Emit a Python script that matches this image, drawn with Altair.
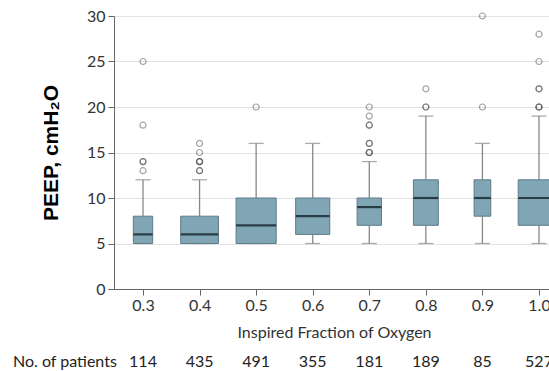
import altair as alt
import pandas as pd

# PEEP distribution by inspired fraction of oxygen (FiO2)
fio2 = [0.3, 0.4, 0.5, 0.6, 0.7, 0.8, 0.9, 1.0]
patients = [114, 435, 491, 355, 181, 189, 85, 527]
whisker_low = [5, 5, 5, 5, 5, 5, 5, 5]
q1 = [5, 5, 5, 6, 7, 7, 8, 7]
median = [6, 6, 7, 8, 9, 10, 10, 10]
q3 = [8, 8, 10, 10, 10, 12, 12, 12]
whisker_high = [12, 12, 16, 16, 14, 19, 16, 19]
# outlying PEEP values; repeated values mark several patients at the same level
outliers = [
    [13, 14, 14, 18, 25],
    [13, 13, 14, 14, 14, 15, 16],
    [20],
    [],
    [15, 15, 15, 16, 16, 18, 18, 19, 20],
    [20, 20, 22],
    [20, 30],
    [20, 20, 20, 22, 22, 25, 28],
]
y_ticks = [0, 5, 10, 15, 20, 25, 30]

boxes = pd.DataFrame({
    "fio2": fio2,
    "n": patients,
    "low": whisker_low,
    "q1": q1,
    "median": median,
    "q3": q3,
    "high": whisker_high,
})
points = pd.DataFrame(
    [{"fio2": f, "peep": v} for f, vals in zip(fio2, outliers) for v in vals]
)
row_label = pd.DataFrame({"label": ["No. of patients"]})

FONT = "Lato"
FS = 16
x_scale = alt.Scale(domain=[0.24874, 1.01768], nice=False, zero=False)
y_scale = alt.Scale(domain=[0, 30], nice=False)

x_axis = alt.Axis(
    values=fio2, format=".1f", grid=False, tickSize=6, tickColor="#666",
    domainColor="#666", labelFont=FONT, labelFontSize=FS, labelColor="#333",
    labelPadding=2, labelFlush=False, labelOverlap=False,
    title="Inspired Fraction of Oxygen", titleFont=FONT, titleFontSize=FS,
    titleFontWeight="normal", titleColor="#333", titleX=220, titleY=48,
    titleBaseline="alphabetic", titleAlign="center",
)
y_axis = alt.Axis(
    values=y_ticks, grid=True, gridColor="#e2e2e2", gridWidth=1.2, tickSize=6,
    tickColor="#666", domainColor="#666", labelFont=FONT, labelFontSize=FS,
    labelColor="#333", labelPadding=3,
    title="PEEP, cmH₂O", titleFont="Liberation Sans", titleFontSize=21,
    titleFontWeight="bold", titleColor="#000", titleAngle=270,
    titleX=-57, titleY=136.5, titleBaseline="alphabetic", titleAlign="center",
)

base = alt.Chart(boxes).transform_calculate(
    x_lo="datum.fio2 - 0.0016 * sqrt(datum.n)",
    x_hi="datum.fio2 + 0.0016 * sqrt(datum.n)",
)

whisker_lo = base.mark_rule(color="#888", strokeWidth=1.3).encode(
    x=alt.X("fio2:Q", scale=x_scale, axis=x_axis),
    y=alt.Y("low:Q", scale=y_scale, axis=y_axis),
    y2="q1:Q",
)
whisker_hi = base.mark_rule(color="#888", strokeWidth=1.3).encode(
    x="fio2:Q", y="q3:Q", y2="high:Q"
)
cap_lo = base.mark_tick(orient="horizontal", size=15, thickness=1.3, color="#888").encode(
    x="fio2:Q", y="low:Q"
)
cap_hi = base.mark_tick(orient="horizontal", size=15, thickness=1.3, color="#888").encode(
    x="fio2:Q", y="high:Q"
)
box = base.mark_rect(fill="#80a6b6", stroke="#5d7b87", strokeWidth=1).encode(
    x="x_lo:Q", x2="x_hi:Q", y="q1:Q", y2="q3:Q"
)
mid = base.mark_rule(color="#2b3d44", strokeWidth=2.2).encode(
    x="x_lo:Q", x2="x_hi:Q", y="median:Q"
)
dots = alt.Chart(points).mark_point(
    shape="circle", filled=False, size=36, stroke="#4a4a4a", strokeWidth=1.2,
    opacity=0.5,
).encode(x="fio2:Q", y="peep:Q")

counts = base.mark_text(
    font=FONT, fontSize=FS, color="#222", baseline="alphabetic", align="center"
).encode(x="fio2:Q", y=alt.value(351), text="n:Q")
counts_label = alt.Chart(row_label).mark_text(
    font=FONT, fontSize=FS, color="#222", baseline="alphabetic", align="left"
).encode(x=alt.value(-101), y=alt.value(351), text="label:N")

chart = alt.layer(
    whisker_lo, whisker_hi, cap_lo, cap_hi, box, mid, dots, counts, counts_label
).properties(
    width=435,
    height=273,
    padding={"left": 114, "top": 16, "right": 0, "bottom": 82},
    autosize=alt.AutoSizeParams(type="none"),
    background="white",
).configure_view(stroke=None)

chart.save("out.html", embed_options={"renderer": "svg", "actions": False})
